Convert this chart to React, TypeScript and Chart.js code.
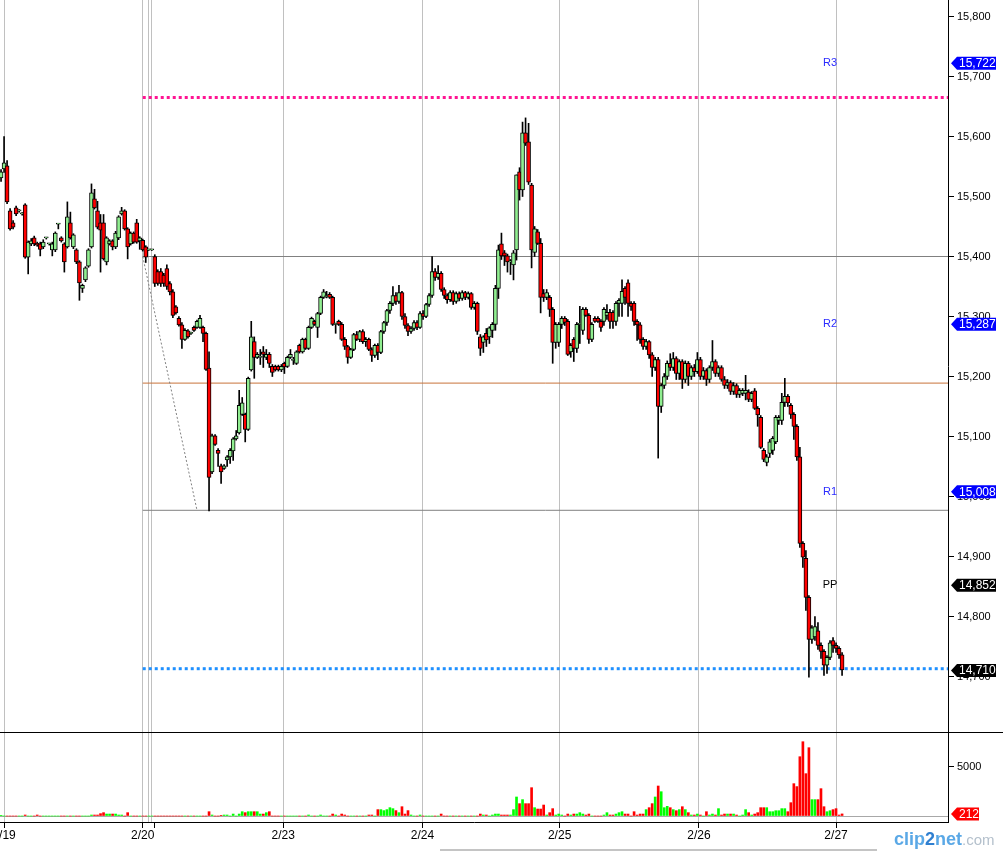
import React, { useEffect, useRef } from 'react';
import { Chart, registerables } from 'chart.js';
Chart.register(...registerables);

const FONT = "'Liberation Sans', Arial, sans-serif";

// [open, high, low, close] per 30-minute candle
const day0219: number[][] = [
  [15531,15545,15525,15541],[15546,15600,15540,15556],[15551,15560,15488,15491],[15476,15480,15444,15446],
  [15456,15460,15446,15449],[15481,15484,15468,15471],[15476,15478,15474,15476],[15471,15473,15469,15471],
  [15486,15488,15397,15399],[15399,15426,15371,15424],[15421,15430,15418,15426],[15431,15434,15418,15421],
  [15422,15424,15417,15419],[15421,15424,15401,15412],[15416,15428,15413,15424],[15431,15432,15429,15431],
  [15421,15422,15419,15421],[15411,15424,15401,15421],[15411,15441,15408,15439],[15454,15455,15446,15454],
  [15431,15433,15424,15426],[15421,15423,15374,15391],[15416,15491,15414,15466],[15456,15474,15429,15431],
  [15416,15438,15413,15436],[15411,15413,15388,15391],[15391,15393,15327,15356],[15347,15354,15340,15352],
  [15361,15383,15358,15381],[15384,15413,15382,15411],[15416,15521,15414,15506],[15496,15512,15479,15481],
  [15476,15492,15446,15449],[15456,15470,15374,15444],[15456,15470,15394,15396],[15391,15433,15386,15431],
  [15421,15428,15419,15426],[15426,15428,15411,15416],[15416,15442,15413,15439],[15431,15468,15428,15466],
  [15471,15482,15469,15476],[15476,15478,15444,15446],[15446,15448,15396,15416],[15421,15441,15419,15439],
  [15439,15441,15422,15424],[15456,15462,15422,15424],[15426,15433,15412,15431],
];
const day0220: number[][] = [
  [15427,15429,15409,15411],[15416,15418,15390,15399],[15411,15412,15410,15411],[15411,15412,15410,15411],
  [15400,15403,15350,15355],[15375,15378,15352,15355],[15375,15380,15350,15355],[15369,15372,15350,15355],
  [15380,15386,15345,15350],[15355,15358,15336,15341],[15341,15345,15298,15302],[15316,15318,15304,15306],
  [15297,15300,15284,15286],[15286,15290,15247,15262],[15262,15280,15260,15277],[15276,15278,15264,15266],
  [15272,15274,15270,15272],[15282,15284,15275,15277],[15282,15294,15280,15292],[15282,15302,15280,15297],
  [15282,15284,15258,15272],[15272,15274,15210,15212],[15214,15241,14976,15032],[15041,15104,15038,15101],
  [15101,15103,15085,15087],[15077,15080,15050,15072],[15051,15054,15022,15041],[15047,15053,15045,15051],
  [15061,15068,15050,15066],[15066,15080,15055,15077],[15076,15098,15060,15096],[15096,15110,15094,15101],
  [15106,15177,15104,15152],[15137,15165,15135,15156],[15137,15139,15091,15112],[15112,15199,15110,15197],
  [15211,15292,15209,15266],[15258,15266,15197,15232],[15232,15240,15230,15237],[15232,15245,15220,15232],
  [15241,15250,15215,15237],[15232,15245,15228,15237],[15237,15240,15215,15222],[15217,15220,15200,15207],
  [15217,15219,15209,15211],[15217,15219,15209,15211],[15211,15220,15208,15217],
];
const day0223: number[][] = [
  [15222,15224,15205,15216],[15217,15234,15215,15232],[15232,15245,15230,15237],[15227,15232,15220,15227],
  [15222,15243,15220,15241],[15252,15254,15239,15241],[15241,15264,15239,15262],[15262,15264,15245,15247],
  [15247,15284,15245,15282],[15282,15299,15280,15297],[15292,15294,15285,15287],[15282,15307,15265,15305],
  [15305,15334,15303,15332],[15332,15345,15330,15341],[15333,15342,15331,15333],[15337,15340,15330,15332],
  [15332,15334,15285,15287],[15287,15289,15272,15287],[15292,15294,15285,15287],[15287,15290,15260,15262],
  [15262,15265,15245,15250],[15250,15252,15222,15232],[15232,15247,15230,15245],[15245,15272,15243,15270],
  [15270,15275,15260,15262],[15262,15277,15258,15275],[15275,15278,15255,15258],[15258,15265,15250,15262],
  [15262,15264,15243,15245],[15245,15248,15225,15235],[15235,15254,15232,15252],[15252,15255,15228,15240],
  [15240,15277,15238,15275],[15275,15292,15272,15290],[15290,15312,15285,15310],[15310,15325,15305,15322],
  [15322,15350,15318,15335],[15335,15340,15320,15325],[15325,15352,15322,15340],[15340,15342,15295,15300],
  [15300,15305,15280,15285],[15285,15288,15268,15275],[15275,15283,15272,15280],[15280,15293,15277,15290],
  [15290,15293,15278,15282],[15282,15308,15280,15305],
];
const day0224: number[][] = [
  [15305,15310,15295,15300],[15300,15322,15298,15320],[15320,15338,15317,15335],[15335,15400,15332,15375],
  [15375,15380,15360,15365],[15365,15385,15362,15372],[15372,15375,15342,15345],[15345,15348,15330,15335],
  [15335,15338,15322,15328],[15328,15343,15325,15340],[15340,15343,15320,15325],[15325,15341,15322,15338],
  [15338,15341,15326,15330],[15330,15343,15327,15340],[15340,15342,15328,15332],[15332,15341,15329,15338],
  [15338,15340,15312,15315],[15315,15325,15312,15322],[15322,15324,15270,15275],[15266,15270,15235,15247],
  [15257,15268,15240,15266],[15272,15280,15250,15261],[15266,15283,15255,15281],[15277,15290,15265,15287],
  [15287,15352,15277,15347],[15347,15419,15330,15411],[15421,15439,15395,15401],[15406,15410,15385,15401],
  [15401,15404,15374,15391],[15391,15395,15370,15391],[15386,15410,15361,15406],[15411,15536,15394,15536],
  [15541,15548,15494,15511],[15511,15624,15500,15606],[15606,15631,15585,15589],[15591,15622,15520,15524],
  [15519,15522,15381,15411],[15407,15450,15400,15446],[15441,15445,15420,15422],[15422,15430,15306,15332],
  [15338,15345,15325,15332],[15332,15345,15328,15340],[15332,15335,15300,15312],[15312,15315,15222,15257],
  [15257,15290,15247,15287],[15257,15290,15250,15287],
];
const day0225: number[][] = [
  [15287,15300,15280,15297],[15297,15300,15285,15290],[15292,15295,15235,15237],[15241,15255,15232,15252],
  [15262,15265,15225,15247],[15247,15290,15240,15287],[15287,15317,15255,15287],[15277,15315,15270,15312],
  [15312,15315,15300,15302],[15302,15305,15255,15262],[15262,15290,15258,15287],[15297,15300,15290,15292],
  [15297,15300,15290,15292],[15292,15295,15275,15282],[15292,15315,15285,15312],[15302,15320,15295,15307],
  [15307,15312,15280,15292],[15307,15310,15280,15292],[15292,15325,15285,15322],[15322,15330,15300,15327],
  [15322,15361,15300,15342],[15347,15350,15320,15332],[15356,15361,15300,15322],[15322,15325,15310,15317],
  [15322,15325,15285,15292],[15292,15295,15260,15286],[15286,15290,15255,15262],[15262,15265,15245,15250],
  [15250,15262,15245,15258],[15258,15260,15230,15236],[15236,15240,15200,15215],[15215,15232,15210,15228],
  [15228,15232,15064,15150],[15150,15188,15140,15185],[15185,15205,15180,15200],[15200,15226,15195,15222],
  [15222,15238,15210,15215],[15215,15240,15210,15230],[15230,15233,15195,15205],[15205,15228,15195,15225],
  [15225,15228,15180,15195],[15195,15226,15190,15222],[15222,15225,15185,15200],[15200,15218,15195,15215],
  [15215,15220,15200,15208],[15208,15240,15205,15228],
];
const day0226: number[][] = [
  [15228,15232,15195,15200],[15200,15215,15195,15210],[15210,15213,15185,15195],[15195,15218,15190,15215],
  [15215,15260,15210,15225],[15225,15228,15200,15205],[15205,15218,15200,15215],[15215,15218,15192,15195],
  [15195,15200,15180,15185],[15185,15195,15180,15190],[15190,15193,15170,15175],[15175,15190,15170,15185],
  [15185,15188,15165,15170],[15170,15180,15165,15177],[15172,15180,15168,15177],[15172,15202,15161,15177],
  [15174,15178,15158,15162],[15162,15175,15158,15172],[15176,15180,15145,15147],[15147,15150,15117,15136],
  [15132,15135,15080,15082],[15077,15080,15058,15062],[15057,15070,15051,15066],[15072,15095,15065,15091],
  [15077,15100,15070,15097],[15091,15135,15088,15132],[15127,15135,15120,15132],[15127,15172,15120,15157],
  [15157,15197,15150,15167],[15167,15170,15150,15156],[15152,15155,15130,15137],[15137,15140,15095,15117],
  [15117,15120,15060,15066],[15066,15082,14915,14922],[14922,14925,14882,14899],[14897,14910,14810,14832],
  [14832,14835,14699,14762],[14762,14785,14755,14781],[14766,14800,14760,14783],[14776,14790,14745,14752],
  [14752,14756,14730,14742],[14742,14745,14702,14719],[14719,14735,14705,14732],[14732,14760,14728,14756],
  [14760,14765,14740,14752],[14752,14756,14740,14747],
];
const day0227: number[][] = [
  [14747,14750,14730,14736],[14736,14740,14702,14711],
];

const vol0219 = [30,0,0,0,0,0,0,0,100,0,0,0,100,0,0,0,0,0,0,0,0,0,0,0,0,0,0,0,0,0,100,100,100,240,340,200,200,200,200,100,100,0,340,0,0,0,0];
const vol0220 = [0,0,0,0,0,0,0,0,0,0,0,0,0,0,0,0,0,0,0,0,0,0,440,100,0,0,70,100,100,0,200,0,200,440,340,440,440,440,440,200,200,340,440,0,0,0,0];
const vol0223 = [0,0,0,0,0,0,0,0,100,0,0,0,100,0,0,0,200,100,0,200,100,0,0,0,0,0,0,0,100,100,0,650,650,550,650,850,750,550,340,950,200,550,100,0,0,100];
const vol0224 = [0,0,0,0,0,0,200,0,0,0,0,0,0,0,0,0,0,0,0,200,100,100,0,100,200,200,100,100,100,100,650,1940,1260,1670,1260,1260,2890,850,710,710,1120,100,340,750,100,200];
const vol0225 = [100,0,200,100,200,200,340,200,100,200,0,0,0,0,100,340,100,100,200,340,440,200,200,0,440,100,200,200,650,850,1260,1940,3060,2480,850,990,850,650,540,650,950,650,340,100,100,200];
const vol0226 = [100,0,440,100,200,100,750,100,200,200,200,200,100,0,100,650,340,100,200,340,850,850,850,440,440,540,540,750,750,440,1360,3300,3000,6050,7580,4320,6970,1670,1670,1670,2790,950,440,540,650,750];
const vol0227 = [100,212];

const dayTickIndex = [1, 47, 93.6, 139.8, 185.3, 231.5, 277];
const dayTickLabels = ['2/19', '2/20', '2/23', '2/24', '2/25', '2/26', '2/27'];
const sessionLineIndex = [48.8, 49.8];
const sessionTickIndex = [50.8];
const priceTicks = [14700, 14800, 14900, 15000, 15100, 15200, 15300, 15400, 15500, 15600, 15700, 15800];
const volumeTicks = [0, 5000];

const tagValues = [15722, 15287, 15008, 14852, 14710];
const tagColors = ['#0000ff', '#0000ff', '#0000ff', '#000000', '#000000'];
const pivotNames = ['R3', 'R2', 'R1', 'PP'];
const pivotValues = [15722, 15287, 15008, 14852];
const pivotColors = ['#2b2bff', '#2b2bff', '#2b2bff', '#000000'];
const pivotLabelIndex = 275;

const levelValues = [15665, 15400, 15189, 14977, 14713];
const levelColors = ['#ff1493', '#808080', '#c8733a', '#808080', '#1e90ff'];
const levelWidths = [3, 1, 1, 1, 3];
const levelDotted = [true, false, false, false, true];
const levelStartIndex = 47;
const trendStart = [47, 15400];
const trendEnd = [65, 14977];
const lastVolume = 212;

const candles = [...day0219, ...day0220, ...day0223, ...day0224, ...day0225, ...day0226, ...day0227];
const volumes = [...vol0219, ...vol0220, ...vol0223, ...vol0224, ...vol0225, ...vol0226, ...vol0227];

const X_MIN = -0.35;
const X_MAX = 314.14;
const P_MIN = 14607.5;
const P_MAX = 15827.5;
const V_MIN = -612;
const V_MAX = 8469;

function drawTag(ctx: CanvasRenderingContext2D, y: number, fill: string, text: string, right: number) {
  const tip = 951, left = 957, hh = 6.5;
  ctx.save();
  ctx.beginPath();
  ctx.moveTo(tip, y);
  ctx.lineTo(left, y - hh);
  ctx.lineTo(right, y - hh);
  ctx.lineTo(right, y + hh);
  ctx.lineTo(left, y + hh);
  ctx.closePath();
  ctx.fillStyle = fill;
  ctx.fill();
  ctx.fillStyle = '#ffffff';
  ctx.font = `12px ${FONT}`;
  ctx.textBaseline = 'middle';
  ctx.textAlign = 'left';
  ctx.fillText(text, 959, y + 0.5);
  ctx.restore();
}

const priceTagPlugin = {
  id: 'priceTags',
  afterDraw(chart: any) {
    const ctx = chart.ctx as CanvasRenderingContext2D;
    const ys = chart.scales.y;
    const xs = chart.scales.x;
    pivotNames.forEach((name, i) => {
      const y = ys.getPixelForValue(pivotValues[i]);
      const x = xs.getPixelForValue(pivotLabelIndex);
      ctx.save();
      ctx.font = `11px ${FONT}`;
      ctx.fillStyle = pivotColors[i];
      ctx.textAlign = 'center';
      ctx.textBaseline = 'middle';
      ctx.fillText(name, x, y);
      ctx.restore();
    });
    tagValues.forEach((v, i) => {
      drawTag(ctx, ys.getPixelForValue(v), tagColors[i], v.toLocaleString('en-US'), 996);
    });
  },
};

const volTagPlugin = {
  id: 'volTags',
  afterDraw(chart: any) {
    const ys = chart.scales.y;
    drawTag(chart.ctx, ys.getPixelForValue(lastVolume), '#ff0000', String(lastVolume), 979);
  },
};

function zeroPadding(s: any) {
  s.paddingTop = 0;
  s.paddingBottom = 0;
  s.paddingLeft = 0;
  s.paddingRight = 0;
}

const gridIndexAll = [...dayTickIndex, ...sessionLineIndex].sort((a, b) => a - b);

export default function App() {
  const priceRef = useRef<HTMLCanvasElement>(null);
  const volRef = useRef<HTMLCanvasElement>(null);

  useEffect(() => {
    Chart.defaults.font.family = FONT;
    const up = candles.map((c) => c[3] >= c[0]);

    const levelDatasets = levelValues.map((v, i) => ({
      type: 'line' as const,
      data: [{ x: levelStartIndex, y: v }, { x: X_MAX, y: v }],
      borderColor: levelColors[i],
      borderWidth: levelWidths[i],
      borderDash: levelDotted[i] ? [3, 3] : [],
      pointRadius: 0,
      order: 3,
    }));

    const priceChart = new Chart(priceRef.current!, {
      type: 'bar',
      data: {
        datasets: [
          {
            type: 'bar',
            data: candles.map((c, i) => ({ x: i, y: [c[0], c[3]] })) as any,
            backgroundColor: up.map((u) => (u ? '#90ee90' : '#ff0000')),
            borderColor: '#000000',
            borderWidth: 1,
            borderSkipped: false,
            barThickness: 4,
            minBarLength: 1,
            grouped: false,
            order: 0,
          } as any,
          {
            type: 'bar',
            data: candles.map((c, i) => ({ x: i, y: [c[2], c[1]] })) as any,
            backgroundColor: '#000000',
            borderWidth: 0,
            barThickness: 1,
            grouped: false,
            order: 1,
          } as any,
          {
            type: 'line',
            data: [{ x: trendStart[0], y: trendStart[1] }, { x: trendEnd[0], y: trendEnd[1] }],
            borderColor: '#808080',
            borderWidth: 1,
            borderDash: [2, 2],
            pointRadius: 0,
            order: 2,
          } as any,
          ...(levelDatasets as any[]),
        ],
      },
      options: {
        responsive: false,
        animation: false,
        devicePixelRatio: 1,
        events: [],
        layout: { padding: 0 },
        plugins: { legend: { display: false }, tooltip: { enabled: false } },
        scales: {
          x: {
            type: 'linear',
            min: X_MIN,
            max: X_MAX,
            offset: false,
            afterBuildTicks: (s: any) => { s.ticks = gridIndexAll.map((v) => ({ value: v })); },
            afterFit: (s: any) => { s.height = 0; zeroPadding(s); },
            grid: { offset: false, color: '#c0c0c0', drawTicks: false, lineWidth: 1 },
            border: { display: false },
            ticks: { display: false },
          },
          y: {
            type: 'linear',
            position: 'right',
            min: P_MIN,
            max: P_MAX,
            afterBuildTicks: (s: any) => { s.ticks = priceTicks.map((v) => ({ value: v })); },
            afterFit: (s: any) => { s.width = 55; zeroPadding(s); },
            grid: { drawOnChartArea: false, drawTicks: true, tickLength: 6, tickColor: '#000000' },
            border: { display: true, color: '#000000', width: 1 },
            ticks: {
              font: { family: FONT, size: 11 },
              color: '#000000',
              padding: 3,
              callback: (v: any) => Number(v).toLocaleString('en-US'),
            },
          },
        },
      } as any,
      plugins: [priceTagPlugin],
    });

    const volChart = new Chart(volRef.current!, {
      type: 'bar',
      data: {
        datasets: [
          {
            type: 'bar',
            data: volumes.map((v, i) => ({ x: i, y: v })),
            backgroundColor: up.map((u) => (u ? '#00ff00' : '#ff0000')),
            borderWidth: 0,
            barThickness: 2,
            grouped: false,
          } as any,
        ],
      },
      options: {
        responsive: false,
        animation: false,
        devicePixelRatio: 1,
        events: [],
        layout: { padding: 0 },
        plugins: { legend: { display: false }, tooltip: { enabled: false } },
        scales: {
          x: {
            type: 'linear',
            min: X_MIN,
            max: X_MAX,
            offset: false,
            afterBuildTicks: (s: any) => {
              s.ticks = [...dayTickIndex, ...sessionLineIndex, ...sessionTickIndex]
                .sort((a, b) => a - b)
                .map((v) => ({ value: v }));
            },
            afterFit: (s: any) => { s.height = 29; zeroPadding(s); },
            grid: {
              offset: false,
              lineWidth: 1,
              drawTicks: true,
              tickLength: 6,
              color: (ctx: any) =>
                ctx.tick && (dayTickIndex.includes(ctx.tick.value) || sessionLineIndex.includes(ctx.tick.value))
                  ? '#c0c0c0'
                  : 'rgba(0,0,0,0)',
              tickColor: (ctx: any) =>
                ctx.tick && (dayTickIndex.includes(ctx.tick.value) || sessionTickIndex.includes(ctx.tick.value))
                  ? '#000000'
                  : 'rgba(0,0,0,0)',
            },
            border: { display: true, color: '#000000', width: 1 },
            ticks: {
              autoSkip: false,
              maxRotation: 0,
              minRotation: 0,
              padding: 0,
              font: { family: FONT, size: 12 },
              color: '#000000',
              callback: (v: any) => {
                const k = dayTickIndex.indexOf(Number(v));
                return k >= 0 ? dayTickLabels[k] : '';
              },
            },
          },
          y: {
            type: 'linear',
            position: 'right',
            min: V_MIN,
            max: V_MAX,
            afterBuildTicks: (s: any) => { s.ticks = volumeTicks.map((v) => ({ value: v })); },
            afterFit: (s: any) => { s.width = 55; zeroPadding(s); },
            grid: {
              drawOnChartArea: true,
              drawTicks: true,
              tickLength: 6,
              color: (ctx: any) => (ctx.tick && ctx.tick.value === 0 ? '#a8a8a8' : 'rgba(0,0,0,0)'),
              tickColor: (ctx: any) => (ctx.tick && ctx.tick.value === 5000 ? '#000000' : 'rgba(0,0,0,0)'),
            },
            border: { display: true, color: '#000000', width: 1 },
            ticks: {
              font: { family: FONT, size: 11 },
              color: '#000000',
              padding: 3,
              callback: (v: any) => (Number(v) === 0 ? '' : String(v)),
            },
          },
        },
      } as any,
      plugins: [volTagPlugin],
    });

    return () => {
      priceChart.destroy();
      volChart.destroy();
    };
  }, []);

  return (
    <div
      style={{
        position: 'absolute',
        left: 0,
        top: 0,
        width: 1003,
        height: 851,
        background: '#ffffff',
        overflow: 'hidden',
        fontFamily: FONT,
      }}
    >
      <canvas
        ref={priceRef}
        width={1003}
        height={732}
        style={{ position: 'absolute', left: 0, top: 0, width: 1003, height: 732 }}
      />
      <div style={{ position: 'absolute', left: 0, top: 732, width: 1003, height: 1, background: '#000000' }} />
      <canvas
        ref={volRef}
        width={1003}
        height={118}
        style={{ position: 'absolute', left: 0, top: 733, width: 1003, height: 118 }}
      />
      <div style={{ position: 'absolute', left: 440, top: 849, width: 437, height: 2, background: '#c4c4c4' }} />
      <div
        style={{
          position: 'absolute',
          left: 894,
          top: 829,
          whiteSpace: 'nowrap',
          lineHeight: '20px',
        }}
      >
        <span style={{ fontSize: 18, fontWeight: 'bold', color: '#5aa8e6' }}>clip</span>
        <span style={{ fontSize: 18, fontWeight: 'bold', color: '#2f7fd0' }}>2</span>
        <span style={{ fontSize: 18, fontWeight: 'bold', color: '#5aa8e6' }}>net</span>
        <span style={{ fontSize: 15, color: '#b4c0cc' }}>.com</span>
      </div>
    </div>
  );
}
